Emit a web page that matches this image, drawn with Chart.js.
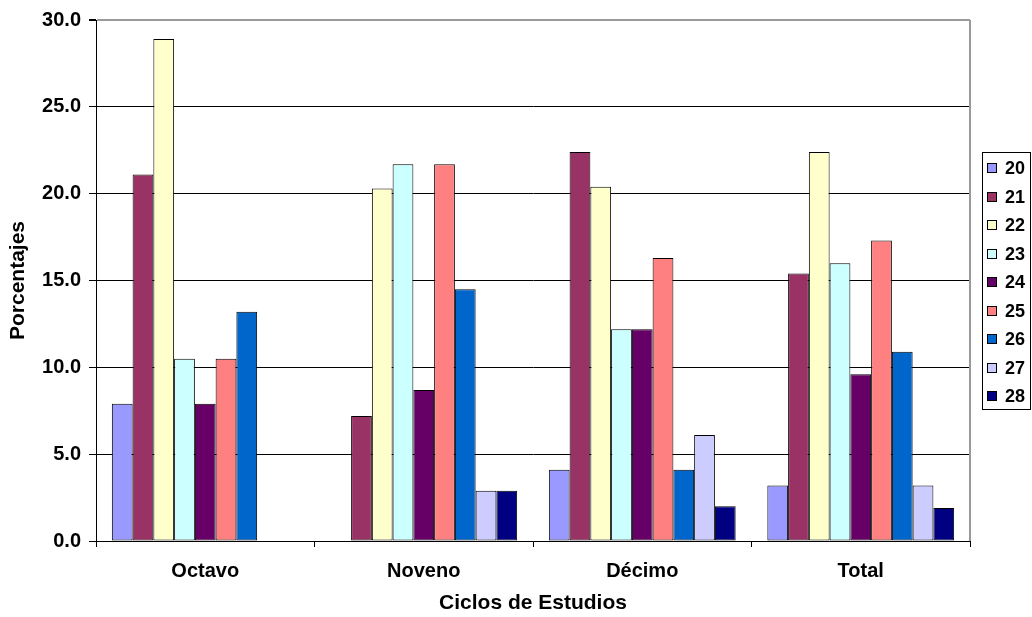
<!DOCTYPE html>
<html>
<head>
<meta charset="utf-8">
<script src="https://cdn.jsdelivr.net/npm/chart.js@4/dist/chart.umd.min.js"></script>
<style>
  html, body { margin: 0; padding: 0; background: #ffffff; }
  #wrap { width: 1032px; height: 617px; }
</style>
</head>
<body>
<div id="wrap"><canvas id="c" width="1032" height="617"></canvas></div>
<script>
// Ciclos de estudio (categorías del eje X)
const ciclos = ['Octavo', 'Noveno', 'Décimo', 'Total'];

// Edades (una serie por edad)
const edades = ['20', '21', '22', '23', '24', '25', '26', '27', '28'];

// Porcentajes por edad en cada ciclo: [Octavo, Noveno, Décimo, Total]
const edad20 = [7.9, 0.0, 4.1, 3.2];
const edad21 = [21.1, 7.2, 22.4, 15.4];
const edad22 = [28.9, 20.3, 20.4, 22.4];
const edad23 = [10.5, 21.7, 12.2, 16.0];
const edad24 = [7.9, 8.7, 12.2, 9.6];
const edad25 = [10.5, 21.7, 16.3, 17.3];
const edad26 = [13.2, 14.5, 4.1, 10.9];
const edad27 = [0.0, 2.9, 6.1, 3.2];
const edad28 = [0.0, 2.9, 2.0, 1.9];

// Marcas del eje Y
const yMin = 0, yMax = 30, yPaso = 5;

const valores = [edad20, edad21, edad22, edad23, edad24, edad25, edad26, edad27, edad28];
const colores = ['#9999FF', '#993366', '#FFFFCC', '#CCFFFF', '#660066',
                 '#FF8080', '#0066CC', '#CCCCFF', '#000080'];

const FONT = 'Arial, "Liberation Sans", sans-serif';

// Leyenda con recuadro a la derecha del área de trazado
const leyendaDerecha = {
  id: 'leyendaDerecha',
  afterDraw(chart) {
    const ctx = chart.ctx;
    const ds = chart.data.datasets;
    const x0 = 982, y0 = 152, w = 48, h = 257;
    const paso = 28.5, yPrimero = 168;
    ctx.save();
    ctx.fillStyle = '#ffffff';
    ctx.fillRect(x0, y0, w, h);
    ctx.strokeStyle = '#000000';
    ctx.lineWidth = 1;
    ctx.strokeRect(x0 + 0.5, y0 + 0.5, w, h);
    ctx.font = 'bold 18px ' + FONT;
    ctx.textBaseline = 'middle';
    ctx.textAlign = 'left';
    ds.forEach((d, i) => {
      const yc = Math.round(yPrimero + i * paso);
      ctx.fillStyle = d.backgroundColor;
      ctx.fillRect(987, yc - 5, 9, 9);
      ctx.strokeStyle = '#000000';
      ctx.strokeRect(987.5, yc - 4.5, 9, 9);
      ctx.fillStyle = '#000000';
      ctx.fillText(d.label, 1005, yc + 1);
    });
    ctx.restore();
  }
};

// Borde derecho del área de trazado
const bordeArea = {
  id: 'bordeArea',
  afterDatasetsDraw(chart) {
    const { ctx, chartArea: a } = chart;
    ctx.save();
    ctx.strokeStyle = '#9a9a9a';
    ctx.lineWidth = 2;
    ctx.beginPath();
    ctx.moveTo(a.right, a.top);
    ctx.lineTo(a.right, a.bottom);
    ctx.stroke();
    ctx.restore();
  }
};

new Chart(document.getElementById('c'), {
  type: 'bar',
  data: {
    labels: ciclos,
    datasets: edades.map((e, i) => ({
      label: e,
      data: valores[i],
      backgroundColor: colores[i],
      borderColor: '#000000',
      borderWidth: 1,
      borderSkipped: false,
      categoryPercentage: 0.855,
      barPercentage: 1.0
    }))
  },
  options: {
    responsive: false,
    devicePixelRatio: 1,
    animation: false,
    layout: { padding: { top: 19, right: 62, left: 0, bottom: 0 } },
    plugins: {
      legend: { display: false },
      tooltip: { enabled: false }
    },
    scales: {
      x: {
        offset: true,
        grid: {
          offset: true,
          drawOnChartArea: false,
          drawTicks: true,
          tickLength: 6,
          color: '#000000',
          lineWidth: 1
        },
        border: { color: '#000000', width: 1 },
        ticks: {
          color: '#000000',
          font: { family: FONT, size: 20, weight: 'bold' },
          padding: 12
        },
        title: {
          display: true,
          text: 'Ciclos de Estudios',
          color: '#000000',
          font: { family: FONT, size: 21, weight: 'bold' },
          padding: { top: 0, bottom: 1 }
        },
        afterFit(scale) { scale.height = 76; }
      },
      y: {
        min: yMin,
        max: yMax,
        ticks: {
          stepSize: yPaso,
          color: '#000000',
          font: { family: FONT, size: 20, weight: 'bold' },
          padding: 8,
          callback: v => Number(v).toFixed(1)
        },
        grid: {
          color: c => (c.tick && c.tick.value === yMax) ? '#9a9a9a' : '#000000',
          lineWidth: c => (c.tick && c.tick.value === yMax) ? 2 : 1,
          tickColor: '#000000',
          tickLength: 7
        },
        border: { color: '#000000', width: 1 },
        title: {
          display: true,
          text: 'Porcentajes',
          color: '#000000',
          font: { family: FONT, size: 21, weight: 'bold' },
          padding: { top: 6, bottom: 0 }
        },
        afterFit(scale) { scale.width = 96; }
      }
    }
  },
  plugins: [bordeArea, leyendaDerecha]
});
</script>
</body>
</html>
